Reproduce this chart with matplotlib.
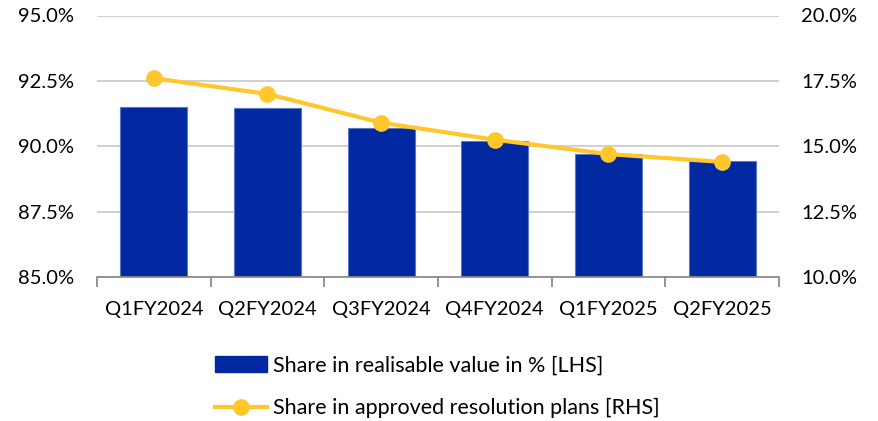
import matplotlib
matplotlib.use("Agg")
import matplotlib.pyplot as plt
from matplotlib.ticker import FuncFormatter, FixedLocator
from matplotlib.lines import Line2D
from matplotlib.patches import Patch

categories = ["Q1FY2024", "Q2FY2024", "Q3FY2024", "Q4FY2024", "Q1FY2025", "Q2FY2025"]
realisable_share = [91.5, 91.45, 90.7, 90.2, 89.7, 89.45]
resolution_share = [17.6, 17.0, 15.9, 15.25, 14.7, 14.4]

plt.rcParams['font.family'] = ['Lato', 'DejaVu Sans']
fs = 14.5
lfs = 15.5

fig = plt.figure(figsize=(8.79, 4.21), dpi=100)
ax = fig.add_axes([97/879, 1-277/421, (779-97)/879, (277-15.5)/421])
x = list(range(len(categories)))
bar_color = "#0028A0"
line_color = "#FFC72C"

ax.bar(x, realisable_share, width=0.587, bottom=0, color=bar_color,
       edgecolor="#5a78c8", linewidth=0.8, zorder=2)
ax.set_ylim(85, 95)
ax.set_xlim(-0.5, len(categories) - 0.5)
ax.set_yticks([85, 87.5, 90, 92.5, 95])
ax.yaxis.set_major_formatter(FuncFormatter(lambda v, p: f"{v:.1f}%"))
ax.grid(axis="y", color="#c8c8c8", linewidth=1.2, zorder=0)
ax.set_axisbelow(True)
for s in ["top", "right", "left"]:
    ax.spines[s].set_visible(False)
ax.spines["bottom"].set_color("#8c8c8c")
ax.spines["bottom"].set_linewidth(1.3)
ax.set_xticks(x)
ax.set_xticklabels(categories, fontsize=fs)
ax.xaxis.set_minor_locator(FixedLocator([i - 0.5 for i in range(len(categories) + 1)]))
ax.tick_params(axis="x", which="major", length=0, pad=17)
ax.tick_params(axis="x", which="minor", length=7, width=1.3, color="#8c8c8c")
ax.tick_params(axis="y", length=0, labelsize=fs, pad=16.5)

ax2 = ax.twinx()
ax2.plot(x, resolution_share, color=line_color, linewidth=3, marker="o",
         markersize=11, zorder=3)
ax2.set_ylim(10, 20)
ax2.set_yticks([10, 12.5, 15, 17.5, 20])
ax2.yaxis.set_major_formatter(FuncFormatter(lambda v, p: f"{v:.1f}%"))
for s in ["top", "right", "left", "bottom"]:
    ax2.spines[s].set_visible(False)
ax2.tick_params(axis="y", length=0, labelsize=fs, pad=16)

handles = [Patch(facecolor=bar_color, edgecolor=bar_color),
           Line2D([0], [0], color=line_color, linewidth=3, marker="o", markersize=11)]
labels = ["Share in realisable value in % [LHS]", "Share in approved resolution plans [RHS]"]
fig.legend(handles, labels, loc="upper left", bbox_to_anchor=(206/879, 1-347/421),
           frameon=False, fontsize=lfs, ncol=1, handlelength=2.45, handleheight=0.75,
           handletextpad=0.25, labelspacing=1.05, borderaxespad=0)

fig.savefig("out.png", dpi=100)
